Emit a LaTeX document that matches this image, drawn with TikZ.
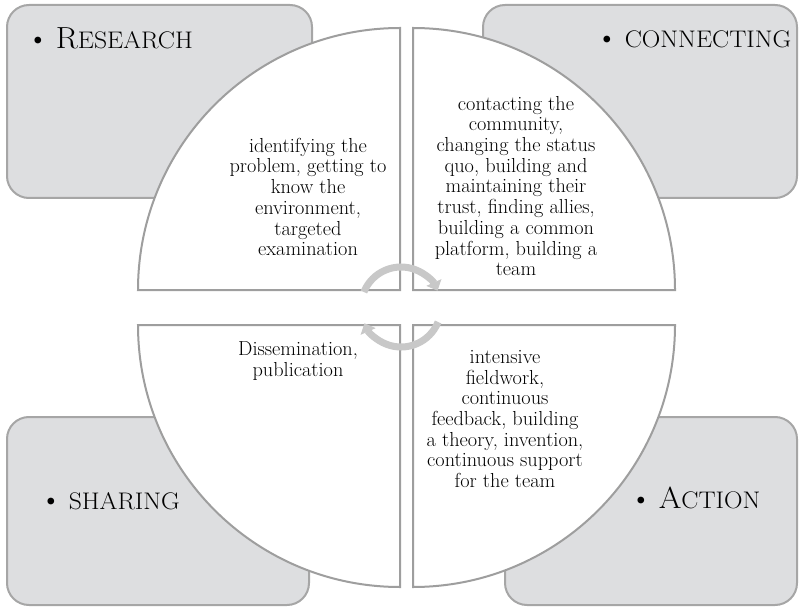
\documentclass[tikz,border=0pt]{standalone}
\usepackage{graphicx}
\usetikzlibrary{arrows.meta}

\definecolor{boxfill}{RGB}{221,222,224}
\definecolor{boxline}{RGB}{166,166,166}
\definecolor{quadline}{RGB}{158,158,158}
\definecolor{cycgray}{RGB}{200,200,200}

% phase name: bullet, large initial, then smaller capitals
\newcommand{\phasename}[2]{\textbullet\hspace{7pt}\scalebox{1.07}[1]{{\fontsize{30.5}{34}\selectfont #1}{\fontsize{24}{28}\selectfont #2}}}

\tikzset{
  phasebox/.style={draw=boxline, fill=boxfill, line width=2pt, rounded corners=22pt},
  quadrant/.style={draw=quadline, fill=white, line width=2pt, line join=miter},
  headtext/.style={anchor=base west, inner sep=0pt, font=\fontsize{30}{34}\selectfont},
  bodytext/.style={align=center, inner sep=0pt, font=\fontsize{20.3}{20.7}\selectfont},
  cycarrow/.style={draw=cycgray, line width=7pt, -{Triangle[width=16pt,length=9pt]}},
}

\begin{document}
\begin{tikzpicture}[x=1pt, y=-1pt]
  \useasboundingbox (0,0) rectangle (802,609);

  % corner boxes holding the phase names
  \draw[phasebox] (7,5) rectangle (312,198);
  \draw[phasebox] (483,5) rectangle (797,198);
  \draw[phasebox] (7,417) rectangle (309,605);
  \draw[phasebox] (505,417) rectangle (797,605);

  % phase names
  \node[headtext] (research) at (27,49) {\phasename{R}{ESEARCH}};
  \node[headtext] (connecting) at (596,48) {\phasename{}{CONNECTING}};
  \node[headtext] (sharing) at (40,509) {\phasename{}{SHARING}};
  \node[headtext] (action) at (630,508) {\phasename{A}{CTION}};

  % four quarter discs
  \draw[quadrant] (400,290) -- (138,290) arc[start angle=180, end angle=270, radius=262] -- cycle;
  \draw[quadrant] (413,290) -- (413,28) arc[start angle=270, end angle=360, radius=262] -- cycle;
  \draw[quadrant] (413,325) -- (675,325) arc[start angle=0, end angle=90, radius=262] -- cycle;
  \draw[quadrant] (400,325) -- (400,587) arc[start angle=90, end angle=180, radius=262] -- cycle;

  % descriptions of each phase
  \node[bodytext] (tlt) at (308,197) {identifying the\\problem, getting to\\know the\\environment,\\targeted\\examination};
  \node[bodytext] (trt) at (516,186) {contacting the\\community,\\changing the status\\quo, building and\\maintaining their\\trust, finding allies,\\building a common\\platform, building a\\team};
  \node[bodytext] (blt) at (298,361) {Dissemination,\\publication};
  \node[bodytext] (brt) at (505,419) {intensive\\fieldwork,\\continuous\\feedback, building\\a theory, invention,\\continuous support\\for the team};

  % cycle arrows in the middle
  \coordinate (hub) at (401,307);
  \draw[cycarrow] ([shift={(202:40)}]hub) arc[start angle=202, end angle=336, radius=40];
  \draw[cycarrow] ([shift={(22:40)}]hub) arc[start angle=22, end angle=156, radius=40];
\end{tikzpicture}
\end{document}
